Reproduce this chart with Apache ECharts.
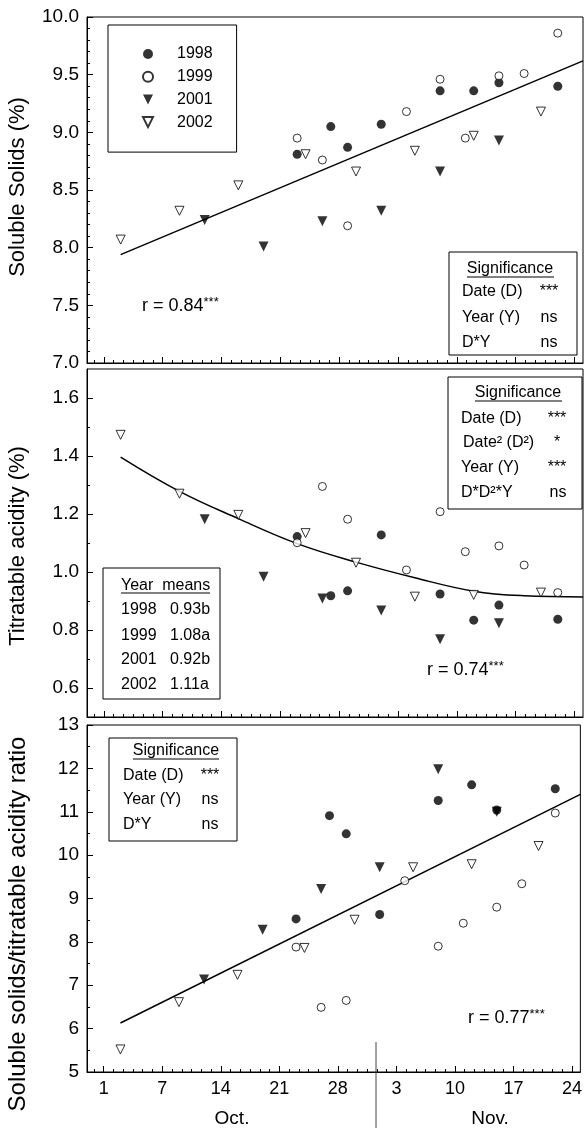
<!DOCTYPE html>
<html>
<head>
<meta charset="utf-8">
<script src="https://cdn.jsdelivr.net/npm/echarts@6/dist/echarts.min.js"></script>
<style>
html,body{margin:0;padding:0;background:#fff;}
#main{width:585px;height:1130px;}
</style>
</head>
<body>
<div id="main"></div>
<script>
// x axis: sampling day, one major tick per week
var tickDays = [0, 7, 14, 21, 28, 35, 42, 49, 56];
var tickLabels = ['1', '7', '14', '21', '28', '3', '10', '17', '24'];

// sampling days of each year
var days1998 = [23, 27, 29, 33, 40, 44, 47, 54];
var days1999 = [23, 26, 29, 36, 40, 43, 47, 50, 54];
var days2001 = [12, 19, 26, 33, 40, 47];
var days2002 = [2, 9, 16, 24, 30, 37, 44, 52];

// soluble solids (%)
var ss1998 = [8.81, 9.05, 8.87, 9.07, 9.36, 9.36, 9.43, 9.40];
var ss1999 = [8.95, 8.76, 8.19, 9.18, 9.46, 8.95, 9.49, 9.51, 9.86];
var ss2001 = [8.24, 8.01, 8.23, 8.32, 8.66, 8.93];
var ss2002 = [8.07, 8.32, 8.54, 8.81, 8.66, 8.84, 8.97, 9.18];
var ssFitX = [2, 57];
var ssFitY = [7.94, 9.62];

// titratable acidity (%)
var ta1998 = [1.122, 0.918, 0.935, 1.128, 0.924, 0.834, 0.886, 0.837];
var ta1999 = [1.101, 1.295, 1.182, 1.007, 1.208, 1.070, 1.090, 1.024, 0.929];
var ta2001 = [1.182, 0.984, 0.909, 0.867, 0.768, 0.823];
var ta2002 = [1.473, 1.270, 1.197, 1.134, 1.032, 0.915, 0.921, 0.929];
var taFitX = [2, 9, 16, 23, 30, 37, 44, 50, 57];
var taFitY = [1.396, 1.278, 1.184, 1.098, 1.034, 0.980, 0.934, 0.918, 0.914];

// soluble solids / titratable acidity ratio
var ra1998 = [8.53, 10.91, 10.49, 8.63, 11.26, 11.62, 11.04, 11.53];
var ra1999 = [7.88, 6.49, 6.65, 9.41, 7.90, 8.43, 8.80, 9.34, 10.97];
var ra2001 = [7.13, 8.28, 9.22, 9.72, 11.98, 11.00];
var ra2002 = [5.52, 6.61, 7.24, 7.86, 8.51, 9.72, 9.79, 10.21];
var raFitX = [2, 57];
var raFitY = [6.13, 11.40];

var FONT = 'Liberation Sans, Arial, sans-serif';
var DOWN_TRI = 'path://M0,0 L10,0 L5,10 Z';

function pts(xs, ys) {
	return xs.map(function (x, i) { return [x, ys[i]]; });
}

// marker style of each year
var yearStyle = {
	'1998': { symbol: 'circle', symbolSize: 9, itemStyle: { color: '#000' } },
	'1999': { symbol: 'circle', symbolSize: 8, itemStyle: { color: '#fff', borderColor: '#000', borderWidth: 1 } },
	'2001': { symbol: 'triangle', symbolRotate: 180, symbolSize: 10, itemStyle: { color: '#000' } },
	'2002': { symbol: 'triangle', symbolRotate: 180, symbolSize: 9, itemStyle: { color: '#fff', borderColor: '#000', borderWidth: 1 } }
};

function scatter(name, g, xs, ys) {
	var s = yearStyle[name];
	return {
		name: name, type: 'scatter', xAxisIndex: g * 2, yAxisIndex: g * 2,
		symbol: s.symbol, symbolSize: s.symbolSize, symbolRotate: s.symbolRotate || 0,
		itemStyle: s.itemStyle, data: pts(xs, ys), z: 3, silent: true
	};
}

function fitLine(g, xs, ys, smooth) {
	return {
		type: 'line', xAxisIndex: g * 2, yAxisIndex: g * 2, data: pts(xs, ys),
		smooth: smooth ? 0.4 : false, showSymbol: false, symbol: 'none',
		lineStyle: { color: '#000', width: 1.5 }, z: 2, silent: true
	};
}

// minor tick positions on x (6 per week)
var minorDays = [];
for (var k = -1; k <= 48; k++) minorDays.push(k * 7 / 6);

var gridTops = [17, 369, 725];
var gridHeights = [346, 348, 347];

var grids = [], xAxes = [], yAxes = [];
for (var g = 0; g < 3; g++) {
	grids.push({ left: 87, width: 496, top: gridTops[g], height: gridHeights[g], show: true, borderColor: '#000', borderWidth: 1 });
	xAxes.push({
		type: 'value', gridIndex: g, min: -2, max: 57, position: 'bottom',
		axisLine: { onZero: false, lineStyle: { color: '#000', width: 1 } },
		axisTick: { inside: true, length: 6, customValues: tickDays, lineStyle: { color: '#000' } },
		axisLabel: {
			show: g === 2, customValues: tickDays, color: '#000', fontSize: 18, fontFamily: FONT, margin: 8,
			formatter: function (v) { return tickLabels[Math.round(v / 7)]; }
		},
		splitLine: { show: false }
	});
	xAxes.push({
		type: 'value', gridIndex: g, min: -2, max: 57, position: 'bottom',
		axisLine: { show: false, onZero: false },
		axisTick: { inside: true, length: 3, customValues: minorDays, lineStyle: { color: '#000' } },
		axisLabel: { show: false },
		splitLine: { show: false }
	});
}

var yLabel = { color: '#000', fontSize: 19, fontFamily: FONT, margin: 8 };

// top: soluble solids
yAxes.push({
	type: 'value', gridIndex: 0, min: 7, max: 10, interval: 0.5, position: 'left',
	axisLine: { show: true, onZero: false, lineStyle: { color: '#000' } },
	axisTick: { show: true, inside: true, length: 6, lineStyle: { color: '#000' } },
	minorTick: { show: true, splitNumber: 5, length: 3, lineStyle: { color: '#000' } },
	axisLabel: Object.assign({ formatter: function (v) { return v.toFixed(1); } }, yLabel),
	splitLine: { show: false }
});
yAxes.push({ type: 'value', gridIndex: 0, min: 7, max: 10, position: 'left', show: false, axisLine: { onZero: false } });

// middle: titratable acidity
yAxes.push({
	type: 'value', gridIndex: 1, min: 0.5, max: 1.7, position: 'left',
	axisLine: { show: true, onZero: false, lineStyle: { color: '#000' } },
	axisTick: { show: true, inside: true, length: 6, customValues: [0.6, 0.8, 1.0, 1.2, 1.4, 1.6], lineStyle: { color: '#000' } },
	axisLabel: Object.assign({ customValues: [0.6, 0.8, 1.0, 1.2, 1.4, 1.6], formatter: function (v) { return v.toFixed(1); } }, yLabel),
	splitLine: { show: false }
});
yAxes.push({
	type: 'value', gridIndex: 1, min: 0.5, max: 1.7, position: 'left',
	axisLine: { show: false, onZero: false },
	axisTick: { show: true, inside: true, length: 3, customValues: [0.7, 0.9, 1.1, 1.3, 1.5], lineStyle: { color: '#000' } },
	axisLabel: { show: false },
	splitLine: { show: false }
});

// bottom: ratio
yAxes.push({
	type: 'value', gridIndex: 2, min: 5, max: 13, interval: 1, position: 'left',
	axisLine: { show: true, onZero: false, lineStyle: { color: '#000' } },
	axisTick: { show: true, inside: true, length: 6, lineStyle: { color: '#000' } },
	minorTick: { show: true, splitNumber: 2, length: 3, lineStyle: { color: '#000' } },
	axisLabel: yLabel,
	splitLine: { show: false }
});
yAxes.push({ type: 'value', gridIndex: 2, min: 5, max: 13, position: 'left', show: false, axisLine: { onZero: false } });

var series = [
	fitLine(0, ssFitX, ssFitY, false),
	scatter('1998', 0, days1998, ss1998),
	scatter('1999', 0, days1999, ss1999),
	scatter('2001', 0, days2001, ss2001),
	scatter('2002', 0, days2002, ss2002),
	fitLine(1, taFitX, taFitY, true),
	scatter('1998', 1, days1998, ta1998),
	scatter('1999', 1, days1999, ta1999),
	scatter('2001', 1, days2001, ta2001),
	scatter('2002', 1, days2002, ta2002),
	fitLine(2, raFitX, raFitY, false),
	scatter('2001', 2, days2001, ra2001),
	scatter('1998', 2, days1998, ra1998),
	scatter('1999', 2, days1999, ra1999),
	scatter('2002', 2, days2002, ra2002)
];

// annotation helpers
function txt(x, y, s, size, align) {
	return { type: 'text', x: x, y: y, z: 110, silent: true,
		style: { text: s, fontSize: size || 16, fontFamily: FONT, fill: '#000', textAlign: align || 'left', textVerticalAlign: 'middle' } };
}
function box(x, y, w, h) {
	return { type: 'rect', z: 100, silent: true, shape: { x: x, y: y, width: w, height: h },
		style: { fill: '#fff', stroke: '#000', lineWidth: 1 } };
}
function hline(x1, x2, y) {
	return { type: 'line', z: 110, silent: true, shape: { x1: x1, y1: y, x2: x2, y2: y }, style: { stroke: '#000', lineWidth: 1 } };
}
function rText(x, y, s) {
	return { type: 'text', x: x, y: y, z: 110, silent: true,
		style: { text: '{a|' + s + '}{b|***}', fontFamily: FONT, fill: '#000', textVerticalAlign: 'middle',
			rich: { a: { fontSize: 18, lineHeight: 20, fontFamily: FONT }, b: { fontSize: 13, lineHeight: 20, verticalAlign: 'top', fontFamily: FONT } } } };
}
function yName(x, y, s, size) {
	return { type: 'text', x: x, y: y, rotation: Math.PI / 2, z: 110, silent: true,
		style: { text: s, fontSize: size, fontFamily: FONT, fill: '#000', textAlign: 'center', textVerticalAlign: 'middle' } };
}

var graphics = [
	yName(18, 187, 'Soluble Solids (%)', 22),
	yName(18, 546, 'Titratable acidity (%)', 22),
	yName(18, 924, 'Soluble solids/titratable acidity ratio', 24),

	// top significance box
	box(449, 252, 128, 103),
	txt(510, 269, 'Significance', 16, 'center'), hline(467, 554, 277),
	txt(462, 292, 'Date (D)'), txt(549, 292, '***', 16, 'center'),
	txt(462, 318, 'Year (Y)'), txt(549, 318, 'ns', 16, 'center'),
	txt(462, 343, 'D*Y'), txt(549, 343, 'ns', 16, 'center'),
	rText(142, 306, 'r = 0.84'),

	// middle significance box
	box(448, 377, 134, 132),
	txt(518, 393, 'Significance', 16, 'center'), hline(475, 562, 401),
	txt(461, 419, 'Date (D)'), txt(557, 419, '***', 16, 'center'),
	txt(463, 443, 'Date² (D²)'), txt(557, 443, '*', 16, 'center'),
	txt(461, 468, 'Year (Y)'), txt(557, 468, '***', 16, 'center'),
	txt(461, 493, 'D*D²*Y'), txt(558, 493, 'ns', 16, 'center'),

	// year means box
	box(103, 568, 117, 131),
	txt(121, 586, 'Year  means'), hline(121, 210, 593),
	txt(121, 610, '1998'), txt(170, 610, '0.93b'),
	txt(121, 636, '1999'), txt(170, 636, '1.08a'),
	txt(121, 660, '2001'), txt(170, 660, '0.92b'),
	txt(121, 685, '2002'), txt(170, 685, '1.11a'),
	rText(427, 670, 'r = 0.74'),

	// bottom significance box
	box(109, 738, 128, 103),
	txt(176, 751, 'Significance', 16, 'center'), hline(133, 219, 759),
	txt(123, 776, 'Date (D)'), txt(210, 776, '***', 16, 'center'),
	txt(123, 800, 'Year (Y)'), txt(210, 800, 'ns', 16, 'center'),
	txt(123, 825, 'D*Y'), txt(210, 825, 'ns', 16, 'center'),
	rText(468, 1018, 'r = 0.77'),

	// month divider and names
	{ type: 'line', z: 110, silent: true, shape: { x1: 376, y1: 1042, x2: 376, y2: 1128 }, style: { stroke: '#444', lineWidth: 1 } },
	txt(232, 1119, 'Oct.', 19, 'center'),
	txt(490, 1119, 'Nov.', 19, 'center')
];

var option = {
	animation: false,
	backgroundColor: '#fff',
	textStyle: { fontFamily: FONT, color: '#000' },
	grid: grids,
	xAxis: xAxes,
	yAxis: yAxes,
	legend: {
		data: [
			{ name: '1998' },
			{ name: '1999' },
			{ name: '2001', icon: DOWN_TRI },
			{ name: '2002', icon: DOWN_TRI }
		],
		orient: 'vertical', left: 108, top: 25,
		padding: [21, 24, 22, 34],
		itemWidth: 10, itemHeight: 10, itemGap: 6.7,
		borderColor: '#000', borderWidth: 1, backgroundColor: '#fff',
		selectedMode: false,
		textStyle: { fontSize: 16, lineHeight: 16, fontFamily: FONT, color: '#000', padding: [0, 0, 0, 19] }
	},
	series: series,
	graphic: graphics
};

var chart = echarts.init(document.getElementById('main'));
chart.setOption(option);
</script>
</body>
</html>
